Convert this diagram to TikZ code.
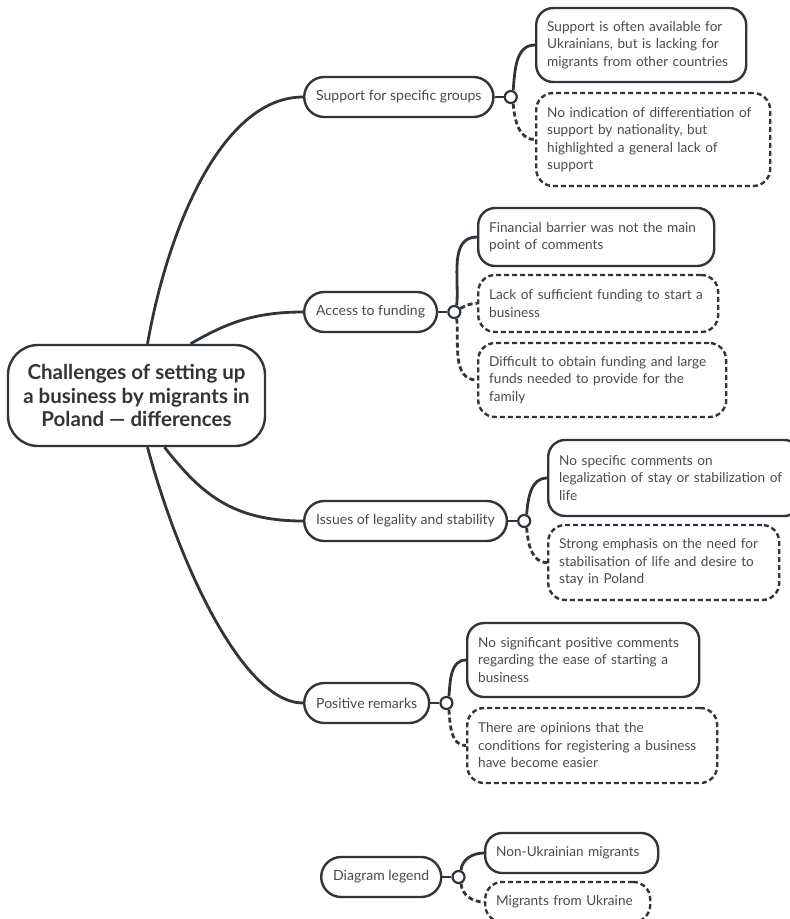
\documentclass[tikz,border=0pt]{standalone}
\usepackage{fontspec}
\setmainfont{Lato}
\usetikzlibrary{positioning}
\definecolor{inkline}{HTML}{2F353A}
\definecolor{inktext}{HTML}{4A4A4A}
\definecolor{inkroot}{HTML}{333333}
\newcommand\topicfont{\fontsize{14}{17.5}\selectfont}
\newcommand\notefont{\fontsize{13.6}{17.5}\selectfont}
\newcommand\rootfont{\fontsize{20.5}{23.5}\selectfont\bfseries}
\tikzset{
x=1pt, y=1pt, % one unit is one pixel of the reference
root/.style={draw=inkline, line width=2.4pt, rounded corners=30pt, fill=white, align=center, font=\rootfont, text=inkroot, minimum width=257pt, minimum height=101pt}, % the central topic
topic/.style={draw=inkline, line width=2.4pt, rounded corners=20pt, fill=white, font=\topicfont, text=inktext, minimum height=40pt, inner xsep=12pt, anchor=west}, % the main branches
note/.style={draw=inkline, line width=2.4pt, rounded corners=17pt, fill=white, font=\notefont, text=inktext, align=left, inner xsep=11pt, inner ysep=0pt, anchor=west}, % non-Ukrainian migrants
notedash/.style={note, dash pattern=on 5pt off 3pt}, % migrants from Ukraine
knob/.style={circle, draw=inkline, line width=2.2pt, fill=white, minimum size=12pt, inner sep=0pt}, % the small joint after a branch
link/.style={draw=inkline, line width=2.8pt}, % solid connector
linkdash/.style={link, dash pattern=on 5pt off 3pt}, % dashed connector
}

\begin{document}
\begin{tikzpicture}
\clip (0,0) rectangle (790,-919);
\fill[white] (0,0) rectangle (790,-919);

\node[root] (g0) at (136.5,-395.5) {Challenges of setting up\\a business by migrants in\\Poland — differences};

\node[topic] (g1) at (303,-97) {Support for specific groups};
\node[topic] (g2) at (303,-312) {Access to funding};
\node[topic] (g3) at (303,-521) {Issues of legality and stability};
\node[topic] (g4) at (303,-703) {Positive remarks};
\node[topic] (g5) at (320,-877) {Diagram legend};

\node[knob, right=9pt of g1] (k1) {};
\node[knob, right=9pt of g2] (k2) {};
\node[knob, right=9pt of g3] (k3) {};
\node[knob, right=9pt of g4] (k4) {};
\node[knob, right=9pt of g5] (k5) {};

\node[note, text width=188pt, minimum height=74pt] (g1a) at (535,-45) {Support is often available for\\Ukrainians, but is lacking for\\migrants from other countries};
\node[notedash, text width=212pt, minimum height=93pt] (g1b) at (535,-139.5) {No indication of differentiation of\\support by nationality, but\\highlighted a general lack of\\support};

\node[note, text width=214pt, minimum height=58pt] (g2a) at (477,-237) {Financial barrier was not the main\\point of comments};
\node[notedash, text width=218pt, minimum height=57pt] (g2b) at (477,-303.5) {Lack of sufficient funding to start a\\business};
\node[notedash, text width=226pt, minimum height=74pt] (g2c) at (477,-380) {Difficult to obtain funding and large\\funds needed to provide for the\\family};

\node[note, text width=231pt, minimum height=76pt] (g3a) at (547,-478) {No specific comments on\\legalization of stay or stabilization of\\life};
\node[notedash, text width=209pt, minimum height=75pt] (g3b) at (547,-562.5) {Strong emphasis on the need for\\stabilisation of life and desire to\\stay in Poland};

\node[note, text width=210pt, minimum height=74pt] (g4a) at (466,-660) {No significant positive comments\\regarding the ease of starting a\\business};
\node[notedash, text width=228pt, minimum height=75pt] (g4b) at (466,-745.5) {There are opinions that the\\conditions for registering a business\\have become easier};

\node[note, text width=151pt, minimum height=40pt] (g5a) at (484,-853) {Non-Ukrainian migrants};
\node[notedash, text width=143pt, minimum height=40pt] (g5b) at (484,-902) {Migrants from Ukraine};

% root to branches
\draw[link] ([xshift=11pt]g0.north) .. controls +(80:120) and +(-80,0) .. (g1.west);
\draw[link] ([xshift=54pt]g0.north) .. controls +(30:40) and +(-50,0) .. (g2.west);
\draw[link] ([xshift=28pt]g0.south) .. controls +(-52:60) and +(-70,0) .. (g3.west);
\draw[link] ([xshift=11pt]g0.south) .. controls +(-75:120) and +(-60,0) .. (g4.west);

% branches to knobs
\draw[link] (g1) -- (k1);
\draw[link] (g2) -- (k2);
\draw[link] (g3) -- (k3);
\draw[link] (g4) -- (k4);
\draw[link] (g5) -- (k5);

% knobs to notes
\draw[link] (k1.70) to[out=85, in=180] (g1a.west);
\draw[linkdash] (k1.-70) to[out=-85, in=180] (g1b.west);
\draw[link] (k2.70) to[out=85, in=180] (g2a.west);
\draw[linkdash] (k2.30) to[out=30, in=180] (g2b.west);
\draw[linkdash] (k2.-70) to[out=-85, in=180] (g2c.west);
\draw[link] (k3.70) to[out=85, in=180] (g3a.west);
\draw[linkdash] (k3.-70) to[out=-85, in=180] (g3b.west);
\draw[link] (k4.70) to[out=85, in=180] (g4a.west);
\draw[linkdash] (k4.-70) to[out=-85, in=180] (g4b.west);
\draw[link] (k5.70) to[out=85, in=180] (g5a.west);
\draw[linkdash] (k5.-70) to[out=-85, in=180] (g5b.west);
\end{tikzpicture}
\end{document}
